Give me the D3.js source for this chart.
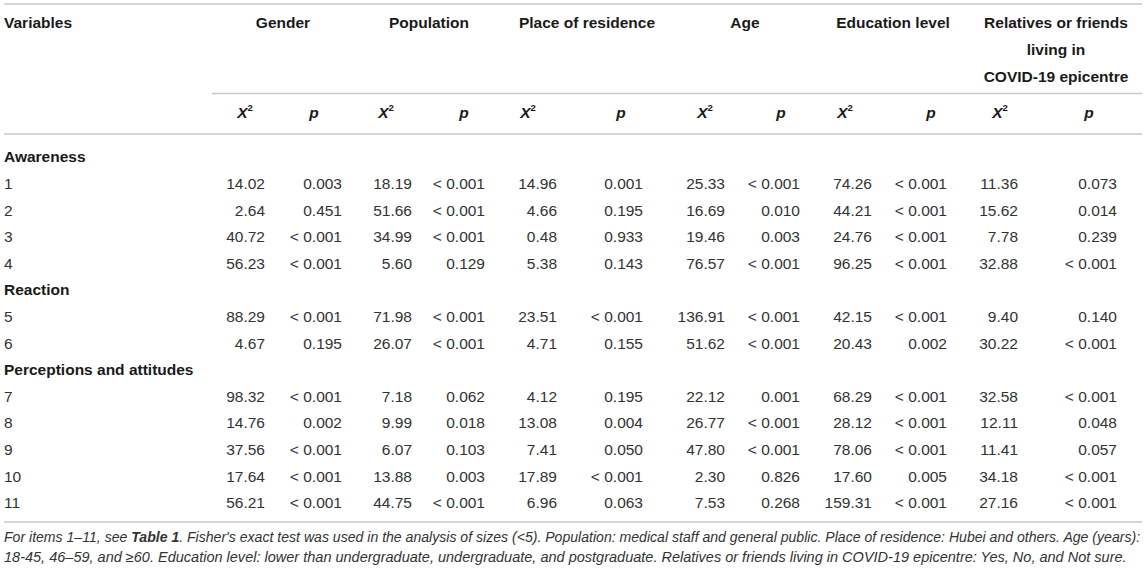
<!DOCTYPE html>
<meta charset="utf-8">
<style>
    body {
        margin: 0;
        background: #fff;
    }
    svg text {
        font-family: "Liberation Sans", Arial, Helvetica, sans-serif;
    }
</style>

<body>
    <script src="https://cdn.jsdelivr.net/npm/d3@7"></script>
    <script>
        // table content
        var groups = ["Gender", "Population", "Place of residence", "Age", "Education level",
            ["Relatives or friends", "living in", "COVID-19 epicentre"]];

        var sections = ["Awareness", "Reaction", "Perceptions and attitudes"];
        var sectionItems = [[1, 2, 3, 4], [5, 6], [7, 8, 9, 10, 11]];

        var genderX2 = [14.02, 2.64, 40.72, 56.23, 88.29, 4.67, 98.32, 14.76, 37.56, 17.64, 56.21];
        var genderP = ["0.003", "0.451", "<0.001", "<0.001", "<0.001", "0.195", "<0.001", "0.002", "<0.001", "<0.001", "<0.001"];
        var populationX2 = [18.19, 51.66, 34.99, 5.60, 71.98, 26.07, 7.18, 9.99, 6.07, 13.88, 44.75];
        var populationP = ["<0.001", "<0.001", "<0.001", "0.129", "<0.001", "<0.001", "0.062", "0.018", "0.103", "0.003", "<0.001"];
        var residenceX2 = [14.96, 4.66, 0.48, 5.38, 23.51, 4.71, 4.12, 13.08, 7.41, 17.89, 6.96];
        var residenceP = ["0.001", "0.195", "0.933", "0.143", "<0.001", "0.155", "0.195", "0.004", "0.050", "<0.001", "0.063"];
        var ageX2 = [25.33, 16.69, 19.46, 76.57, 136.91, 51.62, 22.12, 26.77, 47.80, 2.30, 7.53];
        var ageP = ["<0.001", "0.010", "0.003", "<0.001", "<0.001", "<0.001", "0.001", "<0.001", "<0.001", "0.826", "0.268"];
        var educationX2 = [74.26, 44.21, 24.76, 96.25, 42.15, 20.43, 68.29, 28.12, 78.06, 17.60, 159.31];
        var educationP = ["<0.001", "<0.001", "<0.001", "<0.001", "<0.001", "0.002", "<0.001", "<0.001", "<0.001", "0.005", "<0.001"];
        var relativesX2 = [11.36, 15.62, 7.78, 32.88, 9.40, 30.22, 32.58, 12.11, 11.41, 34.18, 27.16];
        var relativesP = ["0.073", "0.014", "0.239", "<0.001", "0.140", "<0.001", "<0.001", "0.048", "0.057", "<0.001", "<0.001"];

        var footnote = [
            [["For items 1–11, see ", false], ["Table 1", true], [". Fisher's exact test was used in the analysis of sizes (<5). Population: medical staff and general public. Place of residence: Hubei and others. Age (years):", false]],
            [["18-45, 46–59, and ≥60. Education level: lower than undergraduate, undergraduate, and postgraduate. Relatives or friends living in COVID-19 epicentre: Yes, No, and Not sure.", false]]
        ];

        var columns = [genderX2, genderP, populationX2, populationP, residenceX2, residenceP,
            ageX2, ageP, educationX2, educationP, relativesX2, relativesP];

        // layout
        var width = 1146,
            height = 571,
            left = 4,
            right = 1142,
            lineColor = "#c8c8c8",
            fontSize = 15.5;

        var colRight = [265, 342, 412, 485, 557, 643, 725, 800, 872, 947, 1018, 1117],
            colHead = [245, 314, 386, 464, 528, 621, 705, 781, 845, 931, 1000, 1089],
            groupEdge = [212, 354, 504, 670, 820, 966, 1146];

        // rows: section headers followed by their items
        var rows = [];
        sections.forEach(function (s, i) {
            rows.push({ key: "s" + i, label: s, section: true });
            sectionItems[i].forEach(function (n) {
                rows.push({ key: "r" + n, label: String(n), section: false, index: n - 1 });
            });
        });

        var y = d3.scaleBand()
            .domain(rows.map(function (d) { return d.key; }))
            .range([143.7, 516.1]);

        var x = d3.scaleOrdinal()
            .domain(d3.range(columns.length))
            .range(colRight);

        var xHead = d3.scaleOrdinal()
            .domain(d3.range(columns.length))
            .range(colHead);

        var fmt = d3.format(".2f");

        var svg = d3.select("body").append("svg")
            .attr("width", width)
            .attr("height", height);

        svg.append("rect")
            .attr("width", width)
            .attr("height", height)
            .attr("fill", "#fff");

        // rules
        var rules = [[left, 4], [groupEdge[0], 93.5], [left, 134], [left, 522]];
        svg.selectAll("line.rule")
            .data(rules)
            .enter().append("line")
            .attr("class", "rule")
            .attr("x1", function (d) { return d[0]; })
            .attr("x2", right)
            .attr("y1", function (d) { return d[1]; })
            .attr("y2", function (d) { return d[1]; })
            .attr("stroke", lineColor)
            .attr("stroke-width", 1.6);

        // header
        svg.append("text")
            .attr("x", left)
            .attr("y", 23)
            .attr("dy", "0.35em")
            .attr("font-size", fontSize)
            .attr("font-weight", "bold")
            .attr("fill", "#1a1a1a")
            .text("Variables");

        var gh = svg.selectAll("text.group")
            .data(groups)
            .enter().append("text")
            .attr("class", "group")
            .attr("text-anchor", "middle")
            .attr("font-size", fontSize)
            .attr("font-weight", "bold")
            .attr("fill", "#1a1a1a");

        gh.selectAll("tspan")
            .data(function (d, i) {
                var lines = Array.isArray(d) ? d : [d];
                return lines.map(function (t) { return { t: t, i: i }; });
            })
            .enter().append("tspan")
            .attr("x", function (d) { return (groupEdge[d.i] + groupEdge[d.i + 1]) / 2; })
            .attr("y", function (d, j) { return 23 + j * 27; })
            .attr("dy", "0.35em")
            .text(function (d) { return d.t; });

        // X2 / p sub headers
        var sh = svg.selectAll("text.sub")
            .data(columns)
            .enter().append("text")
            .attr("class", "sub")
            .attr("x", function (d, i) { return xHead(i); })
            .attr("y", 113)
            .attr("dy", "0.35em")
            .attr("text-anchor", "middle")
            .attr("font-size", fontSize)
            .attr("font-weight", "bold")
            .attr("font-style", "italic")
            .attr("fill", "#1a1a1a");

        sh.each(function (d, i) {
            var t = d3.select(this);
            if (i % 2 === 0) {
                t.append("tspan").text("X");
                t.append("tspan")
                    .attr("font-size", fontSize * 0.62)
                    .attr("font-style", "normal")
                    .attr("dy", "-0.75em")
                    .text("2");
            } else {
                t.text("p");
            }
        });

        // row labels
        svg.selectAll("text.rowlabel")
            .data(rows)
            .enter().append("text")
            .attr("class", "rowlabel")
            .attr("x", left)
            .attr("y", function (d) { return y(d.key) + y.bandwidth() / 2; })
            .attr("dy", "0.35em")
            .attr("font-size", fontSize)
            .attr("font-weight", function (d) { return d.section ? "bold" : "normal"; })
            .attr("fill", function (d) { return d.section ? "#1a1a1a" : "#333"; })
            .text(function (d) { return d.label; });

        // cells
        var cells = [];
        rows.filter(function (r) { return !r.section; }).forEach(function (r) {
            columns.forEach(function (col, c) {
                var v = col[r.index];
                cells.push({
                    key: r.key,
                    col: c,
                    text: typeof v === "number" ? fmt(v) : v.replace("<", "< ")
                });
            });
        });

        svg.selectAll("text.cell")
            .data(cells)
            .enter().append("text")
            .attr("class", "cell")
            .attr("x", function (d) { return x(d.col); })
            .attr("y", function (d) { return y(d.key) + y.bandwidth() / 2; })
            .attr("dy", "0.35em")
            .attr("text-anchor", "end")
            .attr("font-size", fontSize)
            .attr("fill", "#333")
            .text(function (d) { return d.text; });

        // footnote, squeezed to the table width
        var noteWidth = [1141 - left, 1128 - left];
        svg.selectAll("text.note")
            .data(footnote)
            .enter().append("text")
            .attr("class", "note")
            .attr("x", left)
            .attr("y", function (d, i) { return 537 + i * 20; })
            .attr("dy", "0.35em")
            .attr("font-size", 14)
            .attr("font-style", "italic")
            .attr("fill", "#333")
            .each(function (d, i) {
                var t = d3.select(this);
                d.forEach(function (part) {
                    t.append("tspan")
                        .attr("font-weight", part[1] ? "bold" : "normal")
                        .text(part[0]);
                });
                var w = this.getComputedTextLength();
                t.attr("transform", "translate(" + left + ",0) scale(" + noteWidth[i] / w + ",1) translate(" + -left + ",0)");
            });
    </script>
</body>
